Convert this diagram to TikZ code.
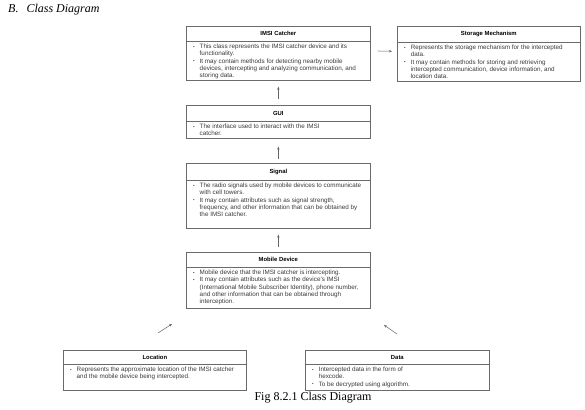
\documentclass[tikz,border=0pt]{standalone}
\usepackage{fontspec}
\setmainfont{Liberation Sans}
\newfontfamily\tnr{Liberation Serif}
\usetikzlibrary{arrows.meta}
\definecolor{boxgray}{HTML}{6A6A6A}
\definecolor{txtgray}{HTML}{3A3A3A}
\definecolor{arrgray}{HTML}{666666}
\newcommand\bul{\raisebox{0.3pt}{\scalebox{0.7}{\textbullet}}}
\newcommand\umlclass[8]{%
  \node[clsbox, minimum width=#4pt, minimum height=#5pt, anchor=north west] (#1) at (#2,#3) {};
  \draw[divline] ([yshift=-#6pt]#1.north west) -- ([yshift=-#6pt]#1.north east);
  \node[hdr] (#1T) at ([yshift=-#6pt/2]#1.north) {#7};
  \node[bodytxt] (#1B) at ([xshift=7pt,yshift=-#6pt-2.2pt]#1.north west) {#8};
}
\begin{document}
\begin{tikzpicture}[x=1pt,y=-1pt,
  clsbox/.style={draw=boxgray, line width=0.7pt, fill=white, inner sep=0pt},
  divline/.style={draw=boxgray, line width=0.6pt},
  hdr/.style={font=\bfseries\fontsize{5.9}{7}\selectfont, text=black, inner sep=0pt},
  bodytxt/.style={font=\fontsize{6.3}{7.3}\selectfont, text=txtgray, inner sep=0pt, anchor=north west, align=left},
  arr/.style={draw=arrgray, line width=0.5pt, -{Stealth[length=3pt,width=2.4pt]}}]
\useasboundingbox (0,0) rectangle (585,409);
\fill[white] (0,0) rectangle (585,409);

\node[anchor=west, font=\tnr\itshape\fontsize{12}{14}\selectfont, inner sep=0pt] (title) at (8,10) {B.\hspace{8pt}Class Diagram};

\umlclass{imsi}{186}{26}{184}{54}{15}{IMSI Catcher}{%
\begin{tabular}{@{}c@{\hspace{5pt}}l@{}}
\bul & This class represents the IMSI catcher device and its\\
 & functionality.\\
\bul & It may contain methods for detecting nearby mobile\\
 & devices, intercepting and analyzing communication, and\\
 & storing data.
\end{tabular}}

\umlclass{stor}{397}{26}{183}{55}{16}{Storage Mechanism}{%
\begin{tabular}{@{}c@{\hspace{5pt}}l@{}}
\bul & Represents the storage mechanism for the intercepted\\
 & data.\\
\bul & It may contain methods for storing and retrieving\\
 & intercepted communication, device information, and\\
 & location data.
\end{tabular}}

\umlclass{gui}{186}{105}{184}{33}{16}{GUI}{%
\begin{tabular}{@{}c@{\hspace{5pt}}l@{}}
\bul & The interface used to interact with the IMSI\\
 & catcher.
\end{tabular}}

\umlclass{sig}{186}{163}{184}{65}{17}{Signal}{%
\begin{tabular}{@{}c@{\hspace{5pt}}l@{}}
\bul & The radio signals used by mobile devices to communicate\\
 & with cell towers.\\
\bul & It may contain attributes such as signal strength,\\
 & frequency, and other information that can be obtained by\\
 & the IMSI catcher.
\end{tabular}}

\umlclass{mob}{186}{252}{184}{56}{15}{Mobile Device}{%
\begin{tabular}{@{}c@{\hspace{5pt}}l@{}}
\bul & Mobile device that the IMSI catcher is intercepting.\\
\bul & It may contain attributes such as the device's IMSI\\
 & (International Mobile Subscriber Identity), phone number,\\
 & and other information that can be obtained through\\
 & interception.
\end{tabular}}

\umlclass{loc}{63}{350}{183}{40}{14}{Location}{%
\begin{tabular}{@{}c@{\hspace{5pt}}l@{}}
\bul & Represents the approximate location of the IMSI catcher\\
 & and the mobile device being intercepted.
\end{tabular}}

\umlclass{data}{305}{350}{184}{40}{14}{Data}{%
\begin{tabular}{@{}c@{\hspace{5pt}}l@{}}
\bul & Intercepted data in the form of\\
 & hexcode.\\
\bul & To be decrypted using algorithm.
\end{tabular}}

\draw[arr, shorten <=7pt, shorten >=5pt] ([yshift=2.5pt]imsi.east) -- ([yshift=2.5pt]stor.west);
\draw[arr, shorten <=6pt, shorten >=6pt] (gui.north) -- (imsi.south);
\draw[arr, shorten <=4pt, shorten >=8pt] (sig.north) -- (gui.south);
\draw[arr, shorten <=5pt, shorten >=6pt] (mob.north) -- (sig.south);

\coordinate (la) at (158,333);
\coordinate (lb) at (172,324);
\coordinate (da) at (397,334);
\coordinate (db) at (384,325);
\draw[arr] (la) -- (lb);
\draw[arr] (da) -- (db);

\node[font=\tnr\fontsize{12}{14}\selectfont, inner sep=0pt] (cap) at (313,398) {Fig 8.2.1 Class Diagram};
\end{tikzpicture}
\end{document}
